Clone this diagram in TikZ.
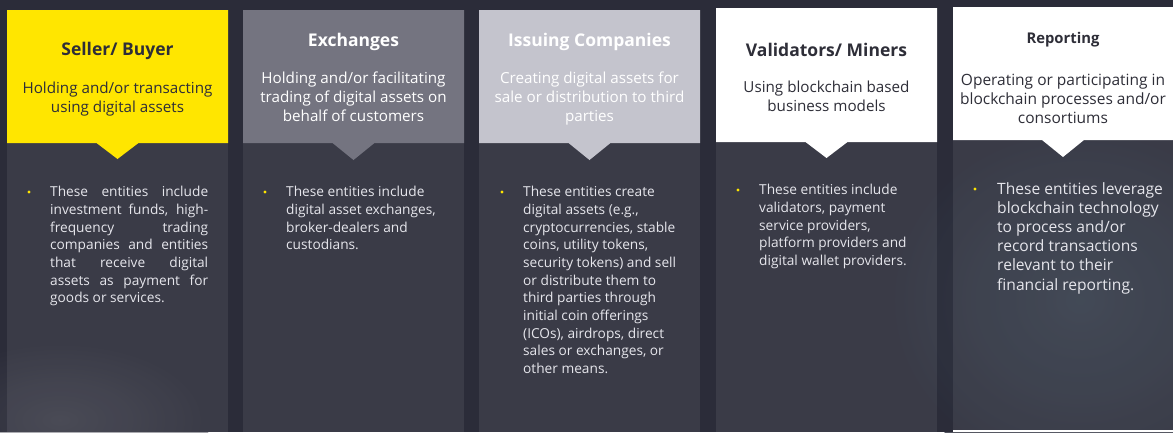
\documentclass[tikz,border=0pt]{standalone}
\usepackage{fontspec}
\setmainfont{Open Sans}
\definecolor{bgdark}{HTML}{2B2C39}
\definecolor{eyyellow}{HTML}{FFE600}
\definecolor{midgray}{HTML}{747480}
\definecolor{lightgray}{HTML}{C4C4CD}
\definecolor{inkdark}{HTML}{2E2E38}
\definecolor{bodytext}{HTML}{E6E6EC}
\definecolor{slate}{HTML}{36404E}
\usetikzlibrary{calc}

% header block with a downward pointer: left, right, top, bottom, centre x, tip y
\newcommand{\hdrshape}[7]{%
  \fill[#7] (#1,#3) -- (#2,#3) -- (#2,#4) -- (#5+21,#4) -- (#5,#6) -- (#5-21,#4) -- (#1,#4) -- cycle;}

\tikzset{
  titletext/.style={font=\bfseries\fontsize{17.5}{21}\selectfont, inner sep=0pt, anchor=center},
  subtext/.style={font=\fontsize{15.2}{18.8}\selectfont, align=center, inner sep=0pt, anchor=north},
  bullettext/.style={font=\fontsize{13.7}{17.7}\selectfont, align=left, inner sep=0pt, anchor=north west, text=bodytext},
  bulletdot/.style={circle, fill=eyyellow, inner sep=0pt, minimum size=3.2pt},
  panel/.style={fill=white, fill opacity=0.075},
}

\begin{document}
\begin{tikzpicture}[x=1pt,y=-1pt]
\useasboundingbox (0,0) rectangle (1173,432);
\fill[bgdark] (0,0) rectangle (1173,432);

% soft haze of the blurred backdrop
\shade[inner color=white!18!bgdark, outer color=bgdark, opacity=0.45] (60,420) ellipse (150 and 80);
\shade[inner color=slate, outer color=bgdark, opacity=0.8] (1080,300) ellipse (200 and 180);

% column bodies
\fill[panel] (7,143) rectangle (228,432);
\fill[panel] (243,143) rectangle (464,432);
\fill[panel] (479,143) rectangle (700,432);
\fill[panel] (716,142) rectangle (937,432);
\fill[panel] (953,140) rectangle (1173,430);
\fill[white] (953,430) rectangle (1173,432);

% headers
\hdrshape{7}{228}{10}{143}{117.5}{159}{eyyellow}
\hdrshape{243}{464}{10}{143}{353.5}{160}{midgray}
\hdrshape{479}{700}{10}{143}{589.5}{160}{lightgray}
\hdrshape{716}{937}{8}{142}{826.5}{158}{white}
\hdrshape{953}{1173}{7}{140}{1063}{157}{white}

% column 1: seller / buyer
\node[titletext, text=inkdark] (t1) at (117.5,51) {Seller/ Buyer};
\node[subtext, text=inkdark] (s1) at (117.5,82) {Holding and/or transacting\\using digital assets};
\node[bulletdot] (b1) at (29,192) {};
\node[bullettext] (d1) at (50,186) {%
\makebox[158pt][s]{These entities include}\\
\makebox[158pt][s]{investment funds, high-}\\
\makebox[158pt][s]{frequency trading}\\
\makebox[158pt][s]{companies and entities}\\
\makebox[158pt][s]{that receive digital}\\
\makebox[158pt][s]{assets as payment for}\\
goods or services.};

% column 2: exchanges
\node[titletext, text=white] (t2) at (353.5,42) {Exchanges};
\node[subtext, text=white] (s2) at (353.5,72) {Holding and/or facilitating\\trading of digital assets on\\behalf of customers};
\node[bulletdot] (b2) at (265,192) {};
\node[bullettext] (d2) at (286,186) {These entities include\\digital asset exchanges,\\broker-dealers and\\custodians.};

% column 3: issuing companies
\node[titletext, text=white] (t3) at (589.5,42) {Issuing Companies};
\node[subtext, text=white] (s3) at (589.5,72) {Creating digital assets for\\sale or distribution to third\\parties};
\node[bulletdot] (b3) at (502,192) {};
\node[bullettext] (d3) at (523,186) {These entities create\\digital assets (e.g.,\\cryptocurrencies, stable\\coins, utility tokens,\\security tokens) and sell\\or distribute them to\\third parties through\\initial coin offerings\\(ICOs), airdrops, direct\\sales or exchanges, or\\other means.};

% column 4: validators / miners
\node[titletext, text=inkdark] (t4) at (826.5,50) {Validators/ Miners};
\node[subtext, text=inkdark] (s4) at (826.5,81) {Using blockchain based\\business models};
\node[bulletdot] (b4) at (738,190) {};
\node[bullettext] (d4) at (759,184) {These entities include\\validators, payment\\service providers,\\platform providers and\\digital wallet providers.};

% column 5: reporting
\node[titletext, text=inkdark, font=\bfseries\fontsize{14.8}{18}\selectfont] (t5) at (1063,40) {Reporting};
\node[subtext, text=inkdark, font=\fontsize{15.5}{19}\selectfont] (s5) at (1063,74) {Operating or participating in\\blockchain processes and/or\\consortiums};
\node[bulletdot] (b5) at (975,189) {};
\node[bullettext, font=\fontsize{15.6}{19.2}\selectfont] (d5) at (997,182) {These entities leverage\\blockchain technology\\to process and/or\\record transactions\\relevant to their\\financial reporting.};
\end{tikzpicture}
\end{document}
